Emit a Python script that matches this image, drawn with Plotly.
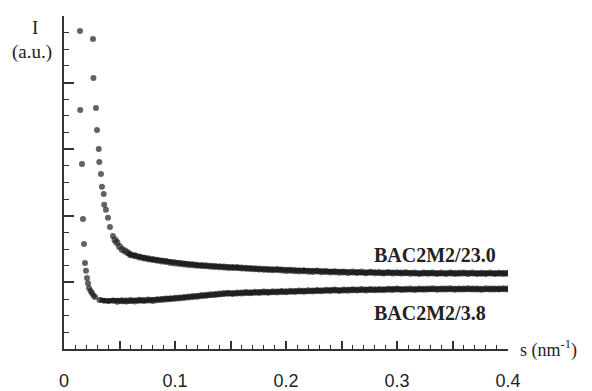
import plotly.graph_objects as go

# --- data ---
# BAC2M2/23.0 (upper curve)
s_23 = [0.0261, 0.0265, 0.0288, 0.0297, 0.0313, 0.0318, 0.0333, 0.0342, 0.0358, 0.0362,
        0.0378, 0.0396, 0.0414, 0.0441, 0.0460, 0.0477, 0.0500, 0.0525, 0.0550, 0.0575,
        0.060, 0.064, 0.068, 0.072, 0.076, 0.080, 0.084, 0.088, 0.092, 0.096,
        0.100, 0.104, 0.108, 0.112, 0.116, 0.120, 0.124, 0.128, 0.132, 0.136,
        0.140, 0.144, 0.148, 0.152, 0.156, 0.160, 0.164, 0.168, 0.172, 0.176,
        0.180, 0.184, 0.188, 0.192, 0.196, 0.200, 0.204, 0.208, 0.212, 0.216,
        0.220, 0.224, 0.228, 0.232, 0.236, 0.240, 0.244, 0.248, 0.252, 0.256,
        0.260, 0.264, 0.268, 0.272, 0.276, 0.280, 0.284, 0.288, 0.292, 0.296,
        0.300, 0.304, 0.308, 0.312, 0.316, 0.320, 0.324, 0.328, 0.332, 0.336,
        0.340, 0.344, 0.348, 0.352, 0.356, 0.360, 0.364, 0.368, 0.372, 0.376,
        0.380, 0.384, 0.388, 0.392, 0.396, 0.400]
I_23 = [18.62, 16.28, 14.47, 13.15, 12.01, 11.23, 10.51, 9.74, 9.31, 8.66,
        8.36, 7.88, 7.33, 6.79, 6.55, 6.40, 6.15, 5.98, 5.88, 5.78,
        5.66, 5.60, 5.52, 5.47, 5.42, 5.37, 5.33, 5.28, 5.26, 5.20,
        5.17, 5.13, 5.10, 5.07, 5.06, 5.03, 5.01, 5.00, 4.97, 4.95,
        4.94, 4.93, 4.90, 4.89, 4.90, 4.86, 4.85, 4.83, 4.82, 4.80,
        4.79, 4.78, 4.76, 4.77, 4.74, 4.72, 4.73, 4.70, 4.69, 4.70,
        4.67, 4.66, 4.68, 4.64, 4.65, 4.62, 4.64, 4.61, 4.63, 4.60,
        4.62, 4.60, 4.62, 4.58, 4.61, 4.58, 4.60, 4.57, 4.59, 4.56,
        4.58, 4.56, 4.58, 4.55, 4.57, 4.54, 4.57, 4.55, 4.56, 4.53,
        4.56, 4.54, 4.57, 4.53, 4.55, 4.56, 4.53, 4.56, 4.54, 4.55,
        4.53, 4.56, 4.54, 4.55, 4.53, 4.55]

# BAC2M2/3.8 (lower curve)
s_38 = [0.0144, 0.0146, 0.0162, 0.0171, 0.0180, 0.0189, 0.0198, 0.0207, 0.0216, 0.0225,
        0.0240, 0.0252, 0.0266, 0.0280,
        0.032, 0.036, 0.040, 0.044, 0.048, 0.052, 0.056, 0.060, 0.064, 0.068,
        0.072, 0.076, 0.080, 0.084, 0.088, 0.092, 0.096, 0.100, 0.104, 0.108,
        0.112, 0.116, 0.120, 0.124, 0.128, 0.132, 0.136, 0.140, 0.144, 0.148,
        0.152, 0.156, 0.160, 0.164, 0.168, 0.172, 0.176, 0.180, 0.184, 0.188,
        0.192, 0.196, 0.200, 0.204, 0.208, 0.212, 0.216, 0.220, 0.224, 0.228,
        0.232, 0.236, 0.240, 0.244, 0.248, 0.252, 0.256, 0.260, 0.264, 0.268,
        0.272, 0.276, 0.280, 0.284, 0.288, 0.292, 0.296, 0.300, 0.304, 0.308,
        0.312, 0.316, 0.320, 0.324, 0.328, 0.332, 0.336, 0.340, 0.344, 0.348,
        0.352, 0.356, 0.360, 0.364, 0.368, 0.372, 0.376, 0.380, 0.384, 0.388,
        0.392, 0.396, 0.400]
I_38 = [19.10, 14.35, 11.11, 7.81, 6.31, 5.17, 4.70, 4.26, 3.95, 3.66,
        3.48, 3.36, 3.22, 3.12,
        2.95, 2.90, 2.88, 2.91, 2.87, 2.90, 2.88, 2.92, 2.89, 2.93,
        2.91, 2.94, 2.92, 2.96, 2.97, 3.00, 3.02, 3.05, 3.07, 3.10,
        3.12, 3.15, 3.17, 3.21, 3.23, 3.26, 3.28, 3.31, 3.33, 3.35,
        3.34, 3.37, 3.36, 3.39, 3.38, 3.41, 3.40, 3.43, 3.41, 3.44,
        3.43, 3.45, 3.44, 3.47, 3.46, 3.49, 3.47, 3.50, 3.48, 3.51,
        3.50, 3.53, 3.51, 3.54, 3.52, 3.55, 3.53, 3.56, 3.54, 3.57,
        3.55, 3.57, 3.56, 3.58, 3.56, 3.59, 3.57, 3.60, 3.58, 3.59,
        3.60, 3.58, 3.61, 3.59, 3.60, 3.62, 3.59, 3.61, 3.60, 3.62,
        3.59, 3.61, 3.60, 3.62, 3.60, 3.61, 3.59, 3.62, 3.60, 3.61,
        3.60, 3.62, 3.60]

series_names = ["BAC2M2/23.0", "BAC2M2/3.8"]
band_start = [0.056, 0.030]   # where the dense, band-like part of each curve begins
x_tickvals = [0, 0.1, 0.2, 0.3, 0.4]
x_ticktext = ["0", "0.1", "0.2", "0.3", "0.4"]
x_halfticks = [0.05, 0.15, 0.25, 0.35]
y_tickvals = [0, 4, 8, 12, 16, 20]

ink = "#1f1f1f"
serif = "Liberation Serif"

fig = go.Figure()
for (s, I, name), s0 in zip([(s_23, I_23, series_names[0]), (s_38, I_38, series_names[1])], band_start):
    sizes = [6 if v < 0.045 else 7 for v in s]
    fig.add_trace(go.Scatter(x=s, y=I, mode="markers", name=name,
                             marker=dict(size=sizes, color=ink, line=dict(width=0)),
                             showlegend=False))
    sb = [v for v in s if v >= s0]
    Ib = [w for v, w in zip(s, I) if v >= s0]
    fig.add_trace(go.Scatter(x=sb, y=Ib, mode="lines", name=name, xaxis="x2",
                             line=dict(width=5, color=ink),
                             showlegend=False, hoverinfo="skip"))

fig.update_layout(
    width=592, height=391,
    margin=dict(l=64, r=84, t=16, b=42),
    paper_bgcolor="white", plot_bgcolor="white",
    showlegend=False,
    xaxis=dict(range=[0, 0.4], showgrid=False, zeroline=False, automargin=False,
               showline=True, linecolor="#333", linewidth=2,
               ticks="inside", ticklen=8, tickwidth=1.5, tickcolor="#333",
               tickvals=x_tickvals, ticktext=x_ticktext,
               tickfont=dict(family="Liberation Sans", size=18, color="#222"),
               ticklabelstandoff=14,
               minor=dict(dtick=0.01, ticks="inside", ticklen=4, tickwidth=1.2, tickcolor="#333")),
    xaxis2=dict(range=[0, 0.4], overlaying="x", anchor="y", side="bottom",
                showgrid=False, zeroline=False, automargin=False, showline=False,
                ticks="inside", ticklen=8, tickwidth=1.5, tickcolor="#333",
                tickvals=x_halfticks, showticklabels=False),
    yaxis=dict(range=[0, 20], showgrid=False, zeroline=False, automargin=False,
               showline=True, linecolor="#333", linewidth=2,
               ticks="inside", ticklen=10, tickwidth=1.5, tickcolor="#333",
               tickvals=y_tickvals, showticklabels=False,
               minor=dict(dtick=1, ticks="inside", ticklen=5, tickwidth=1.2, tickcolor="#333")),
)

# axis titles
fig.add_annotation(text="I", xref="paper", yref="paper", x=-0.0653, y=0.965,
                   xanchor="center", yanchor="middle", showarrow=False,
                   font=dict(family=serif, size=19, color="#222"))
fig.add_annotation(text="(a.u.)", xref="paper", yref="paper", x=-0.072, y=0.892,
                   xanchor="center", yanchor="middle", showarrow=False,
                   font=dict(family=serif, size=19, color="#222"))
fig.add_annotation(text="s (nm<sup>-1</sup>)", xref="paper", yref="paper", x=1.0225, y=0.0,
                   xanchor="left", yanchor="middle", showarrow=False,
                   font=dict(family=serif, size=18, color="#222"))

# series labels
fig.add_annotation(text="<b>" + series_names[0] + "</b>", x=0.2775, y=5.65,
                   xanchor="left", yanchor="middle", showarrow=False,
                   font=dict(family=serif, size=20, color="#222"))
fig.add_annotation(text="<b>" + series_names[1] + "</b>", x=0.2775, y=2.16,
                   xanchor="left", yanchor="middle", showarrow=False,
                   font=dict(family=serif, size=20, color="#222"))

fig.write_html("out.html")
